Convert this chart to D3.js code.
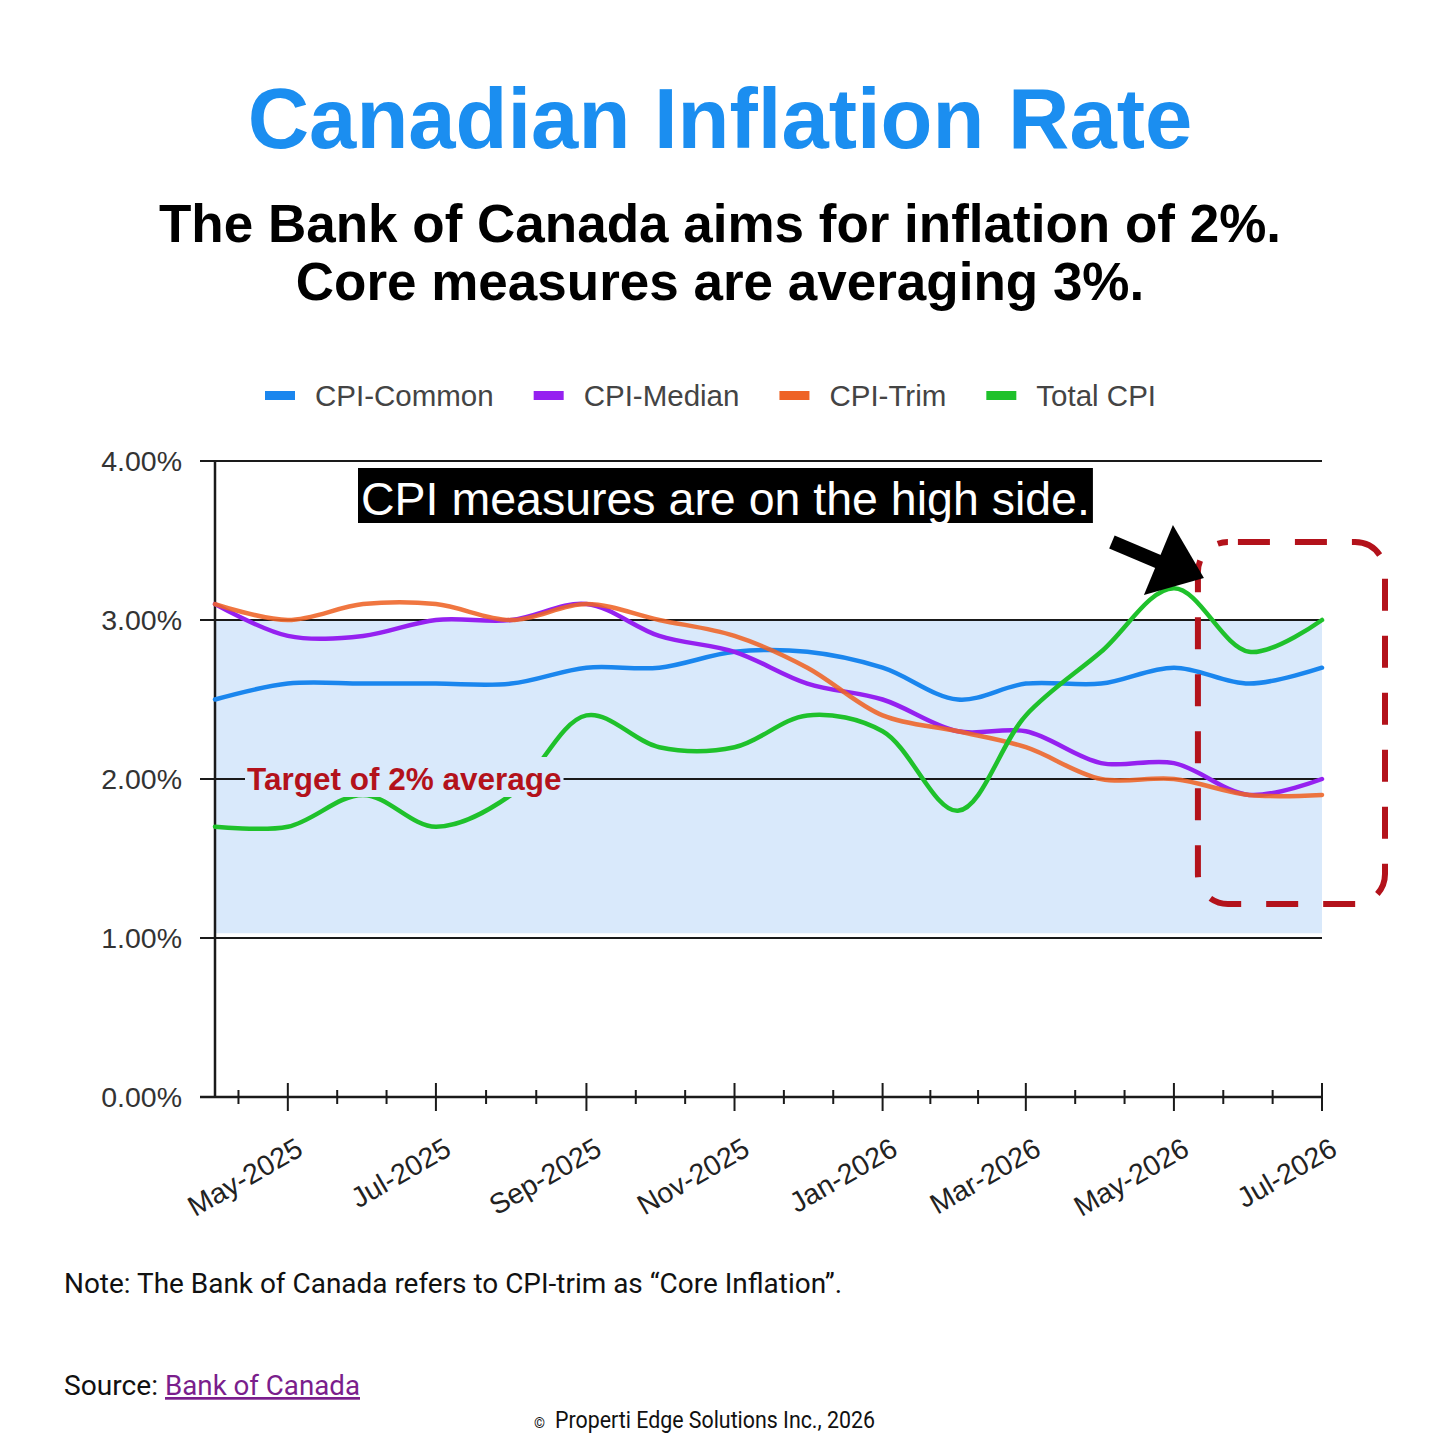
<!DOCTYPE html>
<html>
<head>
	<meta charset="UTF-8" />
	<title>Canadian Inflation Rate</title>
	<script src="https://d3js.org/d3.v7.min.js"></script>
	<style type="text/css">
		body{margin:0; background:#fff;}
		svg{display:block;}
	</style>
</head>
<body>
	<svg id="chart"></svg>

	<script type="text/javascript">
	// data: monthly readings, Apr-2025 .. Jul-2026
	var months = ["2025-04","2025-05","2025-06","2025-07","2025-08","2025-09","2025-10","2025-11",
	              "2025-12","2026-01","2026-02","2026-03","2026-04","2026-05","2026-06","2026-07"]
	var cpiCommon = [2.5, 2.6, 2.6, 2.6, 2.6, 2.7, 2.7, 2.8, 2.8, 2.7, 2.5, 2.6, 2.6, 2.7, 2.6, 2.7]
	var cpiMedian = [3.1, 2.9, 2.9, 3.0, 3.0, 3.1, 2.9, 2.8, 2.6, 2.5, 2.3, 2.3, 2.1, 2.1, 1.9, 2.0]
	var cpiTrim   = [3.1, 3.0, 3.1, 3.1, 3.0, 3.1, 3.0, 2.9, 2.7, 2.4, 2.3, 2.2, 2.0, 2.0, 1.9, 1.9]
	var totalCpi  = [1.7, 1.7, 1.9, 1.7, 1.9, 2.4, 2.2, 2.2, 2.4, 2.3, 1.8, 2.4, 2.8, 3.2, 2.8, 3.0]

	var seriesNames = ["CPI-Common", "CPI-Median", "CPI-Trim", "Total CPI"]
	var yTicks = [0, 1, 2, 3, 4]
	var targetBand = [1.03, 3.0]

	// colours
	var colors = ["#1a86ee", "#9521f0", "#ee6326", "#1fc12b"]
	var bandColor = "#d9e9fb"
	var red = "#b3121b"

	var W = 1440, H = 1440
	var plot = {left: 215, right: 1322, top: 461, bottom: 1097}

	var parseMonth = d3.timeParse("%Y-%m")
	var dates = months.map(parseMonth)

	var xScale = d3.scaleTime()
		.domain(d3.extent(dates))
		.range([plot.left, plot.right])
	var yScale = d3.scaleLinear()
		.domain([0, 4])
		.range([plot.bottom, plot.top])

	var svg = d3.select("#chart")
		.attr("width", W)
		.attr("height", H)
		.style("font-family", "'Liberation Sans', Arial, sans-serif")

	// titles
	svg.append("text")
		.attr("x", 720).attr("y", 148)
		.attr("text-anchor", "middle")
		.style("font-size", "85px").style("font-weight", "bold")
		.style("fill", "#1b8ef0")
		.text("Canadian Inflation Rate")

	var subtitle = ["The Bank of Canada aims for inflation of 2%.", "Core measures are averaging 3%."]
	svg.selectAll(".sub")
		.data(subtitle)
		.enter()
		.append("text")
		.attr("class", "sub")
		.attr("x", 720)
		.attr("y", (d, i) => 242 + i * 58)
		.attr("text-anchor", "middle")
		.style("font-size", "53px").style("font-weight", "bold")
		.style("fill", "#000")
		.text(d => d)

	// legend, flowed left to right
	var legend = svg.append("g")
	var lx = 265
	seriesNames.forEach((name, i) => {
		legend.append("rect")
			.attr("x", lx).attr("y", 391)
			.attr("width", 30).attr("height", 9)
			.attr("fill", colors[i])
		var t = legend.append("text")
			.attr("x", lx + 50).attr("y", 406)
			.style("font-size", "29.5px")
			.style("fill", "#444")
			.text(name)
		lx += 50 + t.node().getComputedTextLength() + 40
	})

	// target band
	svg.append("rect")
		.attr("x", plot.left)
		.attr("y", yScale(targetBand[1]))
		.attr("width", plot.right - plot.left)
		.attr("height", yScale(targetBand[0]) - yScale(targetBand[1]))
		.attr("fill", bandColor)

	// gridlines + y labels
	svg.selectAll(".grid")
		.data(yTicks)
		.enter()
		.append("line")
		.attr("class", "grid")
		.attr("x1", 200).attr("x2", plot.right)
		.attr("y1", d => yScale(d)).attr("y2", d => yScale(d))
		.attr("stroke", "#1a1a1a")
		.attr("stroke-width", 2)

	svg.selectAll(".ylab")
		.data(yTicks)
		.enter()
		.append("text")
		.attr("class", "ylab")
		.attr("x", 182)
		.attr("y", d => yScale(d))
		.attr("dy", "0.36em")
		.attr("text-anchor", "end")
		.style("font-size", "28.5px")
		.style("fill", "#333")
		.text(d => d3.format(".2f")(d) + "%")

	// y axis line
	svg.append("line")
		.attr("x1", plot.left).attr("x2", plot.left)
		.attr("y1", plot.top).attr("y2", plot.bottom)
		.attr("stroke", "#1a1a1a").attr("stroke-width", 2.5)

	// x axis ticks: majors every 2 months, two minors between
	var majors = xScale.ticks(d3.timeMonth.every(2))
	var majorX = majors.map(d => xScale(d))
	var minorX = []
	majorX.forEach((mx, i) => {
		if (i < majorX.length - 1) {
			var st = (majorX[i + 1] - mx) / 3
			minorX.push(mx + st, mx + 2 * st)
		}
		if (i === 0) {
			var step = (majorX[1] - mx) / 3
			for (var k = 1; mx - k * step > plot.left + 5; k++) minorX.push(mx - k * step)
		}
	})

	svg.selectAll(".major")
		.data(majorX)
		.enter()
		.append("line")
		.attr("class", "major")
		.attr("x1", d => d).attr("x2", d => d)
		.attr("y1", plot.bottom - 14).attr("y2", plot.bottom + 14)
		.attr("stroke", "#1a1a1a").attr("stroke-width", 2)

	svg.selectAll(".minor")
		.data(minorX)
		.enter()
		.append("line")
		.attr("class", "minor")
		.attr("x1", d => d).attr("x2", d => d)
		.attr("y1", plot.bottom - 7).attr("y2", plot.bottom + 7)
		.attr("stroke", "#1a1a1a").attr("stroke-width", 2)

	var fmt = d3.timeFormat("%b-%Y")
	svg.selectAll(".xlab")
		.data(majors)
		.enter()
		.append("text")
		.attr("class", "xlab")
		.attr("text-anchor", "end")
		.attr("transform", d => "translate(" + (xScale(d) + 17) + "," + (plot.bottom + 57) + ") rotate(-30)")
		.style("font-size", "28.5px")
		.style("fill", "#222")
		.text(d => fmt(d))

	// x axis line
	svg.append("line")
		.attr("x1", 200).attr("x2", plot.right)
		.attr("y1", plot.bottom).attr("y2", plot.bottom)
		.attr("stroke", "#1a1a1a").attr("stroke-width", 2.5)

	// series lines
	var allSeries = [cpiCommon, cpiMedian, cpiTrim, totalCpi]
	var line = d3.line()
		.x((d, i) => xScale(dates[i]))
		.y(d => yScale(d))
		.curve(d3.curveCatmullRom.alpha(0.5))

	svg.selectAll(".series")
		.data(allSeries)
		.enter()
		.append("path")
		.attr("class", "series")
		.attr("d", d => line(d))
		.attr("fill", "none")
		.attr("stroke", (d, i) => colors[i])
		.attr("stroke-width", 4.5)
		.attr("stroke-opacity", (d, i) => i === 2 ? 0.88 : 1)
		.attr("stroke-linecap", "round")

	// target label (background hides line behind it)
	var tg = svg.append("g")
	var tlab = tg.append("text")
		.attr("x", 247).attr("y", yScale(2) + 11)
		.style("font-size", "31.5px").style("font-weight", "bold")
		.style("fill", red)
		.text("Target of 2% average")
	var tb = tlab.node().getBBox()
	tg.insert("rect", "text")
		.attr("x", tb.x - 2).attr("y", yScale(2) - 22)
		.attr("width", tb.width + 4).attr("height", 40)
		.attr("fill", bandColor)

	// callout box
	var cg = svg.append("g")
	var ctext = cg.append("text")
		.attr("x", 361).attr("y", 515)
		.style("font-size", "46.5px")
		.style("fill", "#fff")
		.text("CPI measures are on the high side.")
	var cb = ctext.node().getBBox()
	cg.insert("rect", "text")
		.attr("x", 358).attr("y", 468)
		.attr("width", cb.width + 6).attr("height", 55)
		.attr("fill", "#000")

	// dashed highlight around the latest months
	var hx0 = xScale(parseMonth("2026-05")) + 24
	svg.append("rect")
		.attr("x", hx0).attr("y", 542)
		.attr("width", 1385 - hx0).attr("height", 362)
		.attr("rx", 30).attr("ry", 30)
		.attr("fill", "none")
		.attr("stroke", red)
		.attr("stroke-width", 6)
		.attr("stroke-dasharray", "32 25")
		.attr("stroke-dashoffset", 47)

	// arrow pointing at the peak
	var tipX = hx0 + 6, tipY = 578
	svg.append("line")
		.attr("x1", tipX - 92).attr("y1", tipY - 36)
		.attr("x2", tipX - 40).attr("y2", tipY - 14)
		.attr("stroke", "#000").attr("stroke-width", 14)
	svg.append("polygon")
		.attr("points", [[tipX, tipY], [tipX - 60, tipY + 17], [tipX - 31, tipY - 53]].map(p => p.join(",")).join(" "))
		.attr("fill", "#000")

	// footer
	svg.append("text")
		.attr("x", 64).attr("y", 1293)
		.attr("textLength", 778).attr("lengthAdjust", "spacingAndGlyphs")
		.style("font-family", "Roboto, sans-serif")
		.style("font-size", "27px")
		.style("fill", "#111")
		.text("Note: The Bank of Canada refers to CPI-trim as \u201cCore Inflation\u201d.")

	svg.append("text")
		.attr("x", 64).attr("y", 1395)
		.attr("textLength", 94).attr("lengthAdjust", "spacingAndGlyphs")
		.style("font-family", "Roboto, sans-serif")
		.style("font-size", "27px")
		.style("fill", "#111")
		.text("Source:")
	svg.append("text")
		.attr("x", 165).attr("y", 1395)
		.attr("textLength", 195).attr("lengthAdjust", "spacingAndGlyphs")
		.style("font-family", "Roboto, sans-serif")
		.style("font-size", "27px")
		.style("fill", "#7a1e8c")
		.style("text-decoration", "underline")
		.text("Bank of Canada")

	svg.append("text")
		.attr("x", 534).attr("y", 1428)
		.style("font-family", "Roboto, sans-serif")
		.style("font-size", "14px")
		.style("fill", "#111")
		.text("\u00a9")
	svg.append("text")
		.attr("x", 555).attr("y", 1428)
		.attr("textLength", 320).attr("lengthAdjust", "spacingAndGlyphs")
		.style("font-family", "Roboto, sans-serif")
		.style("font-size", "23px")
		.style("fill", "#111")
		.text("Properti Edge Solutions Inc., 2026")
	</script>
</body>
</html>
